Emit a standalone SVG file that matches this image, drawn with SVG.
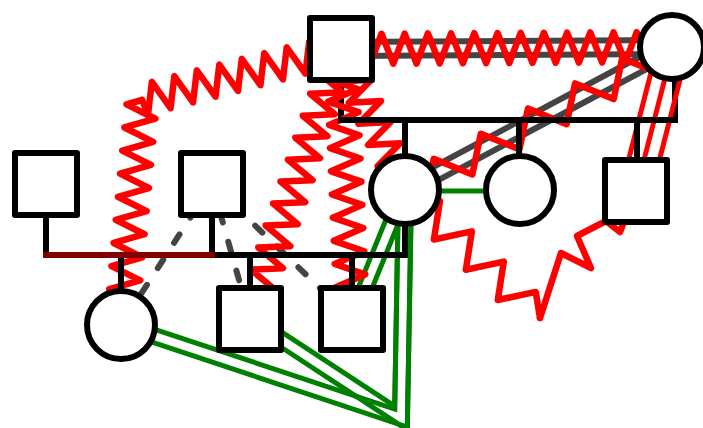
<svg xmlns="http://www.w3.org/2000/svg" width="703" height="428" viewBox="0 0 703 428">
<style>
.node{fill:#fff;stroke:#000;stroke-width:6;stroke-linejoin:round}
.ln{fill:none;stroke:#000;stroke-width:6}
.lnh{fill:none;stroke:#000;stroke-width:6;stroke-linecap:square}
.gray{fill:none;stroke:#444;stroke-width:6}
.dash{fill:none;stroke:#444;stroke-width:6;stroke-dasharray:10 20;stroke-linecap:round}
.zz{fill:none;stroke:#f00;stroke-width:6.5;stroke-linejoin:round;stroke-linecap:round}
.red{fill:none;stroke:#f00;stroke-width:5}
.grn{fill:none;stroke:#008000;stroke-width:5;stroke-linejoin:miter}
</style>
<rect width="703" height="428" fill="#fff"/>
<g id="connectors">
  <path class="ln" d="M341,49V120 M675,47V120 M46,184V255 M212,184V255 M405,190V255"/>
  <g transform="translate(341,49) rotate(-0.35)"><path class="gray" d="M0,-7H332M0,7H332"/></g>
  <g transform="translate(405,190) rotate(-28.08)"><path class="gray" d="M0,-7H304M0,7H304"/></g>
  <path class="dash" d="M212,184L121,325 M212,184L250,319 M212,184L352,319"/>
  <path class="grn" d="M405,191H520"/>
  <g transform="translate(405,190) rotate(112.14)"><path class="grn" d="M0,-6.5H139M0,6.5H139"/></g>
  <path class="grn" d="M398.5,190 L394.7,409 L123,318.8 M411.5,190 L407.3,427 L119,331.2"/>
  <path class="grn" d="M398.5,190 L394.7,406.1 L253.6,313.6 M411.5,190 L407.3,429.9 L246.4,324.4"/>
  <path class="red" d="M658.5,43.3 L621.5,187.3 M673,47 L636,191 M687.5,50.7 L650.5,194.7"/>
  <g transform="translate(341,49) rotate(-0.35)"><path class="zz" d="M0,0 l5.8,15 l11.6,-30 l11.6,30 l11.6,-30 l11.6,30 l11.6,-30 l11.6,30 l11.6,-30 l11.6,30 l11.6,-30 l11.6,30 l11.6,-30 l11.6,30 l11.6,-30 l11.6,30 l11.6,-30 l11.6,30 l11.6,-30 l11.6,30 l11.6,-30 l11.6,30 l11.6,-30 l11.6,30 l11.6,-30 l11.6,30 l11.6,-30 l11.6,30 l11.6,-30 l11.6,30 L332,0"/></g>
  <g transform="translate(341,49) rotate(165.63)"><path class="zz" d="M0,0 l5.8,15 l11.6,-30 l11.6,30 l11.6,-30 l11.6,30 l11.6,-30 l11.6,30 l11.6,-30 l11.6,30 l11.6,-30 l11.6,30 l11.6,-30 l11.6,30 l11.6,-30 l11.6,30 l11.6,-30 l11.6,30 l11.6,-30 L205.4,0"/></g>
  <g transform="translate(142,100) rotate(95.33)"><path class="zz" d="M0,0 l5.8,15 l11.6,-30 l11.6,30 l11.6,-30 l11.6,30 l11.6,-30 l11.6,30 l11.6,-30 l11.6,30 l11.6,-30 l11.6,30 l11.6,-30 l11.6,30 l11.6,-30 l11.6,30 l11.6,-30 l11.6,30 l11.6,-30 l11.6,30 l11.6,-30 L226,0"/></g>
  <g transform="translate(341,49) rotate(108.62)"><path class="zz" d="M0,0 l5.8,15 l11.6,-30 l11.6,30 l11.6,-30 l11.6,30 l11.6,-30 l11.6,30 l11.6,-30 l11.6,30 l11.6,-30 l11.6,30 l11.6,-30 l11.6,30 l11.6,-30 l11.6,30 l11.6,-30 l11.6,30 l11.6,-30 l11.6,30 l11.6,-30 l11.6,30 l11.6,-30 l11.6,30 l11.6,-30 l11.6,30 L284.9,0"/></g>
  <g transform="translate(341,49) rotate(87.67)"><path class="zz" d="M0,0 l5.8,15 l11.6,-30 l11.6,30 l11.6,-30 l11.6,30 l11.6,-30 l11.6,30 l11.6,-30 l11.6,30 l11.6,-30 l11.6,30 l11.6,-30 l11.6,30 l11.6,-30 l11.6,30 l11.6,-30 l11.6,30 l11.6,-30 l11.6,30 l11.6,-30 l11.6,30 l11.6,-30 l11.6,30 L270.2,0"/></g>
  <g transform="translate(341,49) rotate(65.6)"><path class="zz" d="M0,0 l5.8,15 l11.6,-30 l11.6,30 l11.6,-30 l11.6,30 l11.6,-30 l11.6,30 l11.6,-30 l11.6,30 l11.6,-30 l11.6,30 l11.6,-30 l11.6,30 L154.8,0"/></g>
  <g transform="translate(405,190) rotate(-28.08)"><path class="zz" d="M0,0 L13.3,18 L40,-14 L66.7,18 L93.4,-14 L120.1,18 L146.8,-14 L173.5,18 L200.2,-14 L226.9,18 L253.6,-14 L280.3,18 L303.8,0"/></g>
  <g transform="translate(405,190) rotate(43.48)"><path class="zz" d="M0,0 l11,16 l22,-32 l22,32 l22,-32 l22,32 l22,-32 l22,32 l22,-32 L186,0"/></g>
  <path class="zz" d="M540,318 L561,253 L591,268 L577,236 L606,221 L620,232 L636,191"/>
  <path class="lnh" d="M341,120H675 M212,255H405"/>
  <path class="ln" d="M405,120V157 M519,120V157 M637,120V160 M250,255V288 M352,255V288 M121,255V292"/>
  <path fill="none" stroke="#800000" stroke-width="6" stroke-linecap="square" d="M46,255H212"/>
</g>
<g id="A"><rect class="node" x="310" y="18" width="62" height="62"/></g>
<g id="B"><circle class="node" cx="672" cy="47" r="32"/></g>
<g id="C"><circle class="node" cx="405" cy="190" r="34"/></g>
<g id="D"><circle class="node" cx="520" cy="190" r="34"/></g>
<g id="E"><rect class="node" x="605" y="160" width="62" height="62"/></g>
<g id="F"><rect class="node" x="15" y="153" width="62" height="62"/></g>
<g id="G"><rect class="node" x="181" y="153" width="62" height="62"/></g>
<g id="H"><rect class="node" x="219" y="288" width="62" height="62"/></g>
<g id="I"><rect class="node" x="321" y="288" width="62" height="62"/></g>
<g id="J"><circle class="node" cx="121" cy="325" r="34"/></g>
</svg>
